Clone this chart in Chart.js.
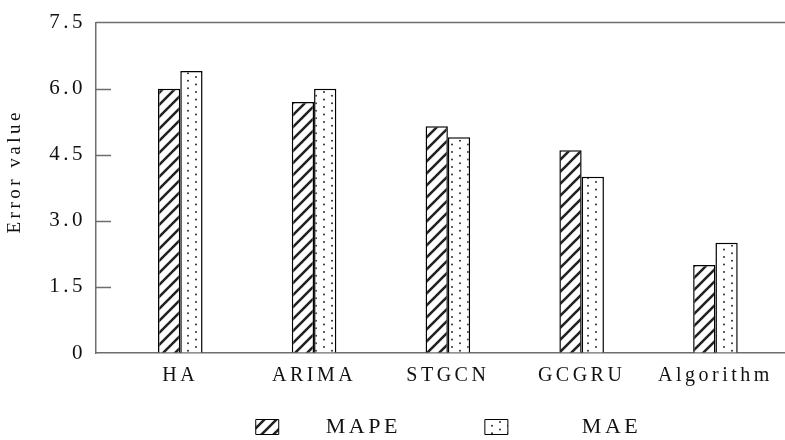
<!DOCTYPE html>
<html>
<head>
<meta charset="utf-8">
<script src="https://cdn.jsdelivr.net/npm/chart.js@4.4.1/dist/chart.umd.min.js"></script>
<style>
  html, body { margin: 0; padding: 0; background: #fff; }
  #wrap { width: 785px; height: 440px; position: relative; }
</style>
</head>
<body>
<div id="wrap"><canvas id="err-chart"></canvas></div>
<script>
const categories = ["HA", "ARIMA", "STGCN", "GCGRU", "Algorithm"];
const mapeValues = [6.0, 5.7, 5.15, 4.6, 2.0];
const maeValues = [6.4, 6.0, 4.9, 4.0, 2.5];
const yTicks = [0, 1.5, 3.0, 4.5, 6.0, 7.5];

const axisColor = "#6e6e6e";
const fontFamily = "'Liberation Serif', 'Times New Roman', serif";

// hatch "/" fill for MAPE
function makeHatch() {
	let c = document.createElement("canvas");
	c.width = 12;
	c.height = 12;
	let g = c.getContext("2d");
	g.fillStyle = "#fff";
	g.fillRect(0, 0, 12, 12);
	g.strokeStyle = "#222";
	g.lineWidth = 2.6;
	g.beginPath();
	g.moveTo(-2, 14);
	g.lineTo(14, -2);
	g.moveTo(-2, 2);
	g.lineTo(2, -2);
	g.moveTo(10, 14);
	g.lineTo(14, 10);
	g.stroke();
	return g.createPattern(c, "repeat");
}

// staggered dots for MAE
function makeDots() {
	let c = document.createElement("canvas");
	c.width = 16;
	c.height = 15;
	let g = c.getContext("2d");
	g.fillStyle = "#fff";
	g.fillRect(0, 0, 16, 15);
	g.fillStyle = "#3a3a3a";
	[[4, 2], [4, 9.5], [12, 5.75], [12, 13.25]].forEach(([x, y]) => {
		g.beginPath();
		g.arc(x, y, 1.05, 0, Math.PI * 2);
		g.fill();
	});
	return g.createPattern(c, "repeat");
}

const spacingPlugin = {
	id: "spacing",
	beforeUpdate(chart) {
		chart.ctx.letterSpacing = "3.5px";
	},
	beforeDraw(chart) {
		chart.ctx.letterSpacing = "3.5px";
	},
	afterLayout(chart) {
		// legend sits a bit right of the plot centre in the original
		if (chart.legend) {
			chart.legend.left += 8;
			chart.legend.right += 8;
		}
	},
};

const framePlugin = {
	id: "frame",
	afterDraw(chart) {
		let { ctx, chartArea, scales } = chart;
		let y = scales.y;
		ctx.save();
		ctx.strokeStyle = axisColor;
		ctx.lineWidth = 1.5;
		ctx.beginPath();
		ctx.moveTo(chartArea.left, chartArea.top);
		ctx.lineTo(chartArea.right, chartArea.top);
		y.ticks.forEach((t) => {
			if (t.value > 0 && t.value < 7.5) {
				let py = Math.round(y.getPixelForValue(t.value)) + 0.5;
				ctx.moveTo(chartArea.left, py);
				ctx.lineTo(chartArea.left + 15, py);
			}
		});
		ctx.stroke();
		ctx.restore();
	},
};

let legendText = ["    MAPE        ", "       MAE"];

let ctx = document.getElementById("err-chart").getContext("2d");
let chart = new Chart(ctx, {
	type: "bar",
	data: {
		datasets: [
			{
				label: "MAPE",
				data: mapeValues.map((v, i) => ({ x: i, y: v })),
				backgroundColor: makeHatch(),
				borderColor: "#000",
				borderWidth: 1.5,
			},
			{
				label: "MAE",
				data: maeValues.map((v, i) => ({ x: i, y: v })),
				backgroundColor: makeDots(),
				borderColor: "#000",
				borderWidth: 1.5,
			},
		],
	},
	options: {
		responsive: true,
		maintainAspectRatio: false,
		animation: false,
		categoryPercentage: 0.333,
		barPercentage: 1,
		layout: { padding: { top: 16, left: 0, right: 0, bottom: -8 } },
		scales: {
			x: {
				type: "linear",
				offset: false,
				min: -0.63,
				max: 4.52,
				afterBuildTicks: (scale) => {
					scale.ticks = categories.map((c, i) => ({ value: i }));
				},
				afterFit: (scale) => {
					scale.height = 51;
				},
				grid: { display: true, offset: false, drawOnChartArea: false, drawTicks: false },
				border: { display: true, color: axisColor, width: 1.5 },
				ticks: {
					autoSkip: false,
					maxRotation: 0,
					padding: 11,
					color: "#111",
					font: { family: fontFamily, size: 20 },
					callback: (v) => categories[v],
				},
			},
			y: {
				min: 0,
				max: 7.5,
				afterBuildTicks: (scale) => {
					scale.ticks = yTicks.map((v) => ({ value: v }));
				},
				afterFit: (scale) => {
					scale.width = 96;
				},
				grid: { display: true, drawOnChartArea: false, drawTicks: false },
				border: { display: true, color: axisColor, width: 1.5 },
				ticks: {
					padding: 10,
					color: "#111",
					font: { family: fontFamily, size: 21 },
					callback: (v) => (v === 0 ? "0" : v.toFixed(1)),
				},
				title: {
					display: true,
					text: "    Error value",
					color: "#111",
					padding: { top: 4, bottom: 0 },
					font: { family: fontFamily, size: 19 },
				},
			},
		},
		plugins: {
			tooltip: { enabled: false },
			legend: {
				position: "bottom",
				fullSize: false,
				labels: {
					boxWidth: 23,
					boxHeight: 15,
					padding: 12,
					color: "#111",
					font: { family: fontFamily, size: 22 },
					generateLabels: (ch) => {
						let items = Chart.defaults.plugins.legend.labels.generateLabels(ch);
						items.forEach((it, i) => {
							it.text = legendText[i];
							it.lineWidth = 1;
						});
						return items;
					},
				},
			},
		},
	},
	plugins: [spacingPlugin, framePlugin],
});
</script>
</body>
</html>
